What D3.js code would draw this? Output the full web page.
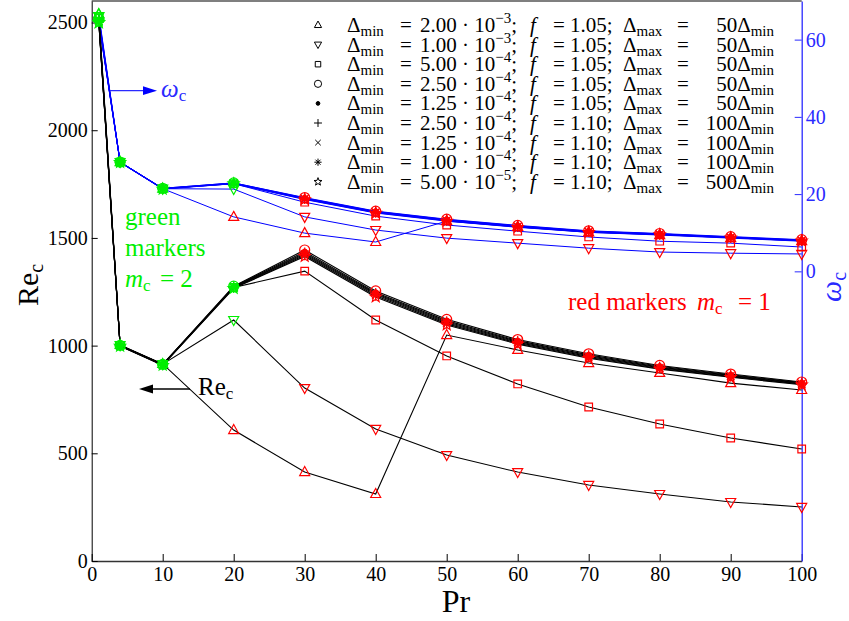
<!DOCTYPE html>
<html>
<head>
<meta charset="utf-8">
<script src="https://cdn.jsdelivr.net/npm/d3@7"></script>
<style>
  body { margin: 0; background: #fff; }
  svg { display: block; }
  svg text { font-family: "Liberation Serif", "DejaVu Serif", serif; }
</style>
</head>
<body>
<svg id="chart" width="849" height="621"></svg>
<script>
// Prandtl numbers of the computed cases
const prandtl = [1, 4, 10, 20, 30, 40, 50, 60, 70, 80, 90, 100];

// Critical Reynolds number for each grid
const reTriUp   = [2540, 1003, 915,  608,  413,  311, 1049,  980,  919,  873,  826,  794];
const reTriDown = [2530, 1002, 914, 1119,  803,  613,  492,  413,  353,  311,  274,  251];
const reSquare  = [2522, 1001, 913, 1270, 1346, 1119,  952,  822,  715,  636,  571,  520];
const reCircle  = [2515, 1001, 913, 1276, 1444, 1254, 1122, 1028,  962,  908,  868,  831];
const reDot     = [2512, 1000, 912, 1274, 1436, 1247, 1116, 1023,  957,  904,  865,  828];
const rePlus    = [2508, 1000, 911, 1272, 1430, 1242, 1111, 1019,  953,  900,  862,  826];
const reCross   = [2505,  999, 911, 1270, 1425, 1237, 1106, 1015,  949,  897,  859,  823];
const reAster   = [2502,  999, 910, 1268, 1420, 1232, 1101, 1011,  945,  894,  856,  821];
const reStar    = [2500,  998, 909, 1266, 1414, 1226, 1096, 1007,  941,  891,  853,  818];

// Critical frequency for each grid
const omTriUp   = [66.5, 28.3, 21.4, 14.1,  9.9,  7.6, 13.0, 11.5, 10.1,  9.4,  8.6,  7.8];
const omTriDown = [66.0, 28.3, 21.4, 21.3, 14.1, 10.7,  8.6,  7.3,  6.0,  5.0,  4.7,  4.5];
const omSquare  = [65.6, 28.3, 21.4, 22.7, 17.9, 14.3, 12.0, 10.4,  8.9,  7.8,  7.3,  6.3];
const omCircle  = [65.3, 28.3, 21.5, 22.9, 19.1, 15.6, 13.5, 11.9, 10.5,  9.8,  9.0,  8.2];
const omDot     = [65.1, 28.3, 21.5, 22.9, 19.0, 15.5, 13.4, 11.8, 10.4,  9.7,  8.9,  8.1];
const omPlus    = [65.0, 28.3, 21.4, 22.8, 18.9, 15.4, 13.3, 11.7, 10.3,  9.7,  8.8,  8.0];
const omCross   = [64.8, 28.2, 21.4, 22.8, 18.8, 15.3, 13.2, 11.6, 10.2,  9.6,  8.8,  8.0];
const omAster   = [64.6, 28.2, 21.4, 22.7, 18.7, 15.2, 13.1, 11.5, 10.2,  9.5,  8.7,  7.9];
const omStar    = [64.4, 28.2, 21.3, 22.7, 18.6, 15.1, 13.0, 11.4, 10.1,  9.5,  8.7,  7.9];

// Critical azimuthal mode m_c at each point
const mcTriUp = [2, 2, 2, 1, 1, 1, 1, 1, 1, 1, 1, 1];
const mcOther = [2, 2, 2, 2, 1, 1, 1, 1, 1, 1, 1, 1];

// Grid parameters shown in the legend
const symbols  = ["triUp", "triDown", "square", "circle", "dot", "plus", "cross", "aster", "star"];
const dminMant = ["2.00", "1.00", "5.00", "2.50", "1.25", "2.50", "1.25", "1.00", "5.00"];
const dminExp  = ["\u22123", "\u22123", "\u22124", "\u22124", "\u22124", "\u22124", "\u22124", "\u22124", "\u22125"];
const fValues  = ["1.05", "1.05", "1.05", "1.05", "1.05", "1.10", "1.10", "1.10", "1.10"];
const dmaxMult = ["50", "50", "50", "50", "50", "100", "100", "100", "500"];

// Axis ticks
const xTicks  = [0, 10, 20, 30, 40, 50, 60, 70, 80, 90, 100];
const reTicks = [0, 500, 1000, 1500, 2000, 2500];
const omTicks = [0, 20, 40, 60];

const reSeries = [reTriUp, reTriDown, reSquare, reCircle, reDot, rePlus, reCross, reAster, reStar];
const omSeries = [omTriUp, omTriDown, omSquare, omCircle, omDot, omPlus, omCross, omAster, omStar];
const mcSeries = [mcTriUp, mcOther, mcOther, mcOther, mcOther, mcOther, mcOther, mcOther, mcOther];

const series = symbols.map((s, i) => ({
  symbol: s, re: reSeries[i], om: omSeries[i], mc: mcSeries[i]
}));

const SERIF = "'Liberation Serif', 'DejaVu Serif', serif";
const BLUE = "#0000ff", AXBLUE = "#2a2aff", RED = "#ff0000", GREEN = "#00ee00";

const svg = d3.select("#chart");
const x   = d3.scaleLinear().domain([0, 100]).range([91.7, 801.7]);
const yRe = d3.scaleLinear().domain([0, 2600]).range([561, 1]);
const yOm = d3.scaleLinear().domain([-75, 70]).range([561, 1]);

// Marker glyph outlines centred on (0,0)
function markerPath(type, k) {
  const p = d3.path();
  const s = v => v * k;
  switch (type) {
    case "triUp":
      p.moveTo(0, s(-5.5)); p.lineTo(s(5), s(3.5)); p.lineTo(s(-5), s(3.5)); p.closePath(); break;
    case "triDown":
      p.moveTo(0, s(5.5)); p.lineTo(s(5), s(-3.5)); p.lineTo(s(-5), s(-3.5)); p.closePath(); break;
    case "square":
      p.rect(s(-3.8), s(-3.8), s(7.6), s(7.6)); break;
    case "circle":
      p.moveTo(s(5), 0); p.arc(0, 0, s(5), 0, 2 * Math.PI); break;
    case "dot":
      p.moveTo(s(2.6), 0); p.arc(0, 0, s(2.6), 0, 2 * Math.PI); break;
    case "plus":
      p.moveTo(s(-5.5), 0); p.lineTo(s(5.5), 0); p.moveTo(0, s(-5.5)); p.lineTo(0, s(5.5)); break;
    case "cross":
      p.moveTo(s(-3.8), s(-3.8)); p.lineTo(s(3.8), s(3.8));
      p.moveTo(s(-3.8), s(3.8)); p.lineTo(s(3.8), s(-3.8)); break;
    case "aster":
      p.moveTo(s(-5), 0); p.lineTo(s(5), 0); p.moveTo(0, s(-5)); p.lineTo(0, s(5));
      p.moveTo(s(-3.5), s(-3.5)); p.lineTo(s(3.5), s(3.5));
      p.moveTo(s(-3.5), s(3.5)); p.lineTo(s(3.5), s(-3.5)); break;
    case "star": {
      for (let j = 0; j < 10; j++) {
        const r = j % 2 === 0 ? s(5.8) : s(2.4);
        const a = -Math.PI / 2 + j * Math.PI / 5;
        if (j === 0) p.moveTo(r * Math.cos(a), r * Math.sin(a));
        else p.lineTo(r * Math.cos(a), r * Math.sin(a));
      }
      p.closePath(); break;
    }
  }
  return p.toString();
}

// Axes with inward ticks
function styleAxis(g, colour, size) {
  g.attr("font-family", SERIF);
  g.selectAll(".tick line").attr("stroke", colour);
  g.selectAll("text").attr("font-size", size).attr("fill", colour).style("font-family", SERIF);
}

const gx = svg.append("g").attr("transform", "translate(0,561)")
  .call(d3.axisBottom(x).tickValues(xTicks).tickFormat(d3.format("d"))
    .tickSizeInner(-7).tickSizeOuter(0).tickPadding(6));
gx.select(".domain").attr("stroke", "#333").attr("stroke-width", 1.6);
styleAxis(gx, "#000", 20);

const gl = svg.append("g").attr("transform", "translate(91.7,0)")
  .call(d3.axisLeft(yRe).tickValues(reTicks).tickFormat(d3.format("d"))
    .tickSizeInner(-6).tickSizeOuter(0).tickPadding(4));
gl.select(".domain").attr("stroke", "#000");
styleAxis(gl, "#000", 20);

const gr = svg.append("g").attr("transform", "translate(801.7,0)")
  .call(d3.axisRight(yOm).tickValues(omTicks).tickFormat(d3.format("d"))
    .tickSizeInner(-7).tickSizeOuter(0).tickPadding(4));
gr.select(".domain").attr("stroke", AXBLUE).attr("stroke-width", 1.3);
styleAxis(gr, AXBLUE, 20);

// Top edge of the frame
svg.append("line").attr("x1", 91.7).attr("x2", 801.7).attr("y1", 1).attr("y2", 1)
  .attr("stroke", "#000").attr("stroke-width", 1.2);

// Curves
const reLine = d3.line().x((d, i) => x(prandtl[i])).y(d => yRe(d));
const omLine = d3.line().x((d, i) => x(prandtl[i])).y(d => yOm(d));

const curves = svg.append("g").attr("fill", "none");
series.forEach(s => {
  curves.append("path").attr("d", omLine(s.om)).attr("stroke", BLUE).attr("stroke-width", 1);
});
series.forEach(s => {
  curves.append("path").attr("d", reLine(s.re)).attr("stroke", "#000").attr("stroke-width", 1.1);
});

// Markers, coloured by critical mode
const marks = svg.append("g");
series.forEach(s => {
  [[s.re, yRe], [s.om, yOm]].forEach(([vals, yScale]) => {
    vals.forEach((v, i) => {
      const col = s.mc[i] === 2 ? GREEN : RED;
      const filled = s.symbol === "dot";
      marks.append("path")
        .attr("transform", `translate(${x(prandtl[i])},${yScale(v)})`)
        .attr("d", markerPath(s.symbol, 1))
        .attr("fill", filled ? col : "none")
        .attr("stroke", col).attr("stroke-width", 1.2);
    });
  });
});

// Text helper
function addText(parent, xPos, yPos, size, colour) {
  return parent.append("text").attr("x", xPos).attr("y", yPos)
    .attr("font-size", size).attr("fill", colour).style("font-family", SERIF);
}

// Legend
const legend = svg.append("g");
symbols.forEach((sym, i) => {
  const cy = 25 + i * 19.6;
  const base = cy + 7;
  legend.append("path")
    .attr("transform", `translate(318,${cy})`)
    .attr("d", markerPath(sym, 0.72))
    .attr("fill", sym === "dot" ? "#000" : "none")
    .attr("stroke", "#000").attr("stroke-width", 1);

  const t1 = addText(legend, 347, base, 21, "#000");
  t1.append("tspan").text("\u0394");
  t1.append("tspan").attr("font-size", 15).attr("dy", 4).text("min");
  addText(legend, 400, base, 21, "#000").text("=");
  const t2 = addText(legend, 420, base, 21, "#000");
  t2.append("tspan").text(`${dminMant[i]} \u00b7 10`);
  t2.append("tspan").attr("font-size", 15).attr("dy", -9).text(dminExp[i]);
  t2.append("tspan").attr("dy", 9).text(";");
  addText(legend, 530, base, 21, "#000").attr("font-style", "italic").text("f");
  addText(legend, 553, base, 21, "#000").text(`= ${fValues[i]};`);
  const t3 = addText(legend, 623, base, 21, "#000");
  t3.append("tspan").text("\u0394");
  t3.append("tspan").attr("font-size", 15).attr("dy", 4).text("max");
  addText(legend, 677, base, 21, "#000").text("=");
  const t4 = addText(legend, 774, base, 21, "#000").attr("text-anchor", "end");
  t4.append("tspan").text(`${dmaxMult[i]}\u0394`);
  t4.append("tspan").attr("font-size", 15).attr("dy", 4).text("min");
});

// Annotation: arrow pointing to the frequency curves
svg.append("line").attr("x1", 110).attr("x2", 146).attr("y1", 90.7).attr("y2", 90.7)
  .attr("stroke", AXBLUE).attr("stroke-width", 1.3);
svg.append("path").attr("d", "M157,90.7 L143,86.3 L143,95.1 Z").attr("fill", BLUE);
const wAnn = addText(svg, 161, 97, 25, AXBLUE);
wAnn.append("tspan").attr("font-style", "italic").text("\u03c9");
wAnn.append("tspan").attr("font-size", 17).attr("dy", 4).text("c");

// Annotation: arrow pointing to the Reynolds curves
svg.append("line").attr("x1", 150).attr("x2", 190).attr("y1", 389).attr("y2", 389)
  .attr("stroke", "#000").attr("stroke-width", 1.3);
svg.append("path").attr("d", "M139,389 L153,384.6 L153,393.4 Z").attr("fill", "#000");
const rAnn = addText(svg, 198, 395, 25, "#000");
rAnn.append("tspan").text("Re");
rAnn.append("tspan").attr("font-size", 17).attr("dy", 4).text("c");

// Mode notes
addText(svg, 125, 225, 25, GREEN).text("green");
addText(svg, 125, 256, 25, GREEN).text("markers");
const gm = addText(svg, 125, 287, 25, GREEN);
gm.append("tspan").attr("font-style", "italic").text("m");
gm.append("tspan").attr("font-size", 17).attr("dy", 4).text("c");
addText(svg, 160, 287, 25, GREEN).text("= 2");

addText(svg, 568, 310, 25, RED).text("red markers");
const rm = addText(svg, 697, 310, 25, RED);
rm.append("tspan").attr("font-style", "italic").text("m");
rm.append("tspan").attr("font-size", 17).attr("dy", 4).text("c");
addText(svg, 738, 310, 25, RED).text("= 1");

// Axis titles
addText(svg, 456, 612, 32, "#000").attr("text-anchor", "middle").text("Pr");
const ly = svg.append("text").attr("transform", "translate(38,285) rotate(-90)")
  .attr("font-size", 30).attr("text-anchor", "middle").style("font-family", SERIF);
ly.append("tspan").text("Re");
ly.append("tspan").attr("font-size", 20).attr("dy", 5).text("c");
const ry = svg.append("text").attr("transform", "translate(841,287) rotate(-90)")
  .attr("font-size", 30).attr("text-anchor", "middle").attr("fill", AXBLUE).style("font-family", SERIF);
ry.append("tspan").attr("font-style", "italic").text("\u03c9");
ry.append("tspan").attr("font-size", 20).attr("dy", 5).text("c");
</script>
</body>
</html>
